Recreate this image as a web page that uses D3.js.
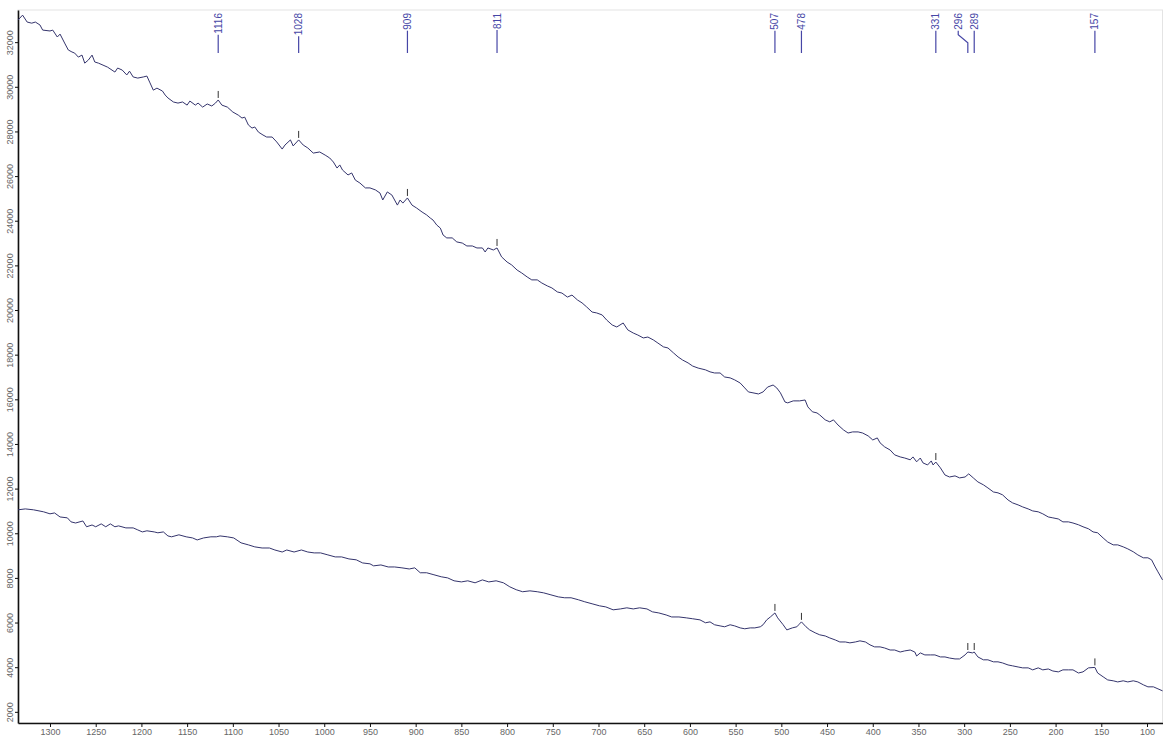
<!DOCTYPE html>
<html lang="en">
<head>
<meta charset="UTF-8">
<title>Raman spectrum</title>
<script src="https://d3js.org/d3.v7.min.js"></script>
<style>
  body { margin: 0; background: #fff; font-family: 'Liberation Sans', Arial, sans-serif; }
  .axis path, .axis line { stroke: #111; }
  .x-axis text { fill: #666; font-size: 9px; }
  .y-label { fill: #666; font-size: 9px; font-family: 'Liberation Sans Narrow', 'Arial Narrow', 'Liberation Sans', sans-serif; }
  .peak-label { fill: #4646a6; font-size: 10px; }
</style>
</head>
<body>
<div id="chart"></div>
<script>
// axis ticks
const xTicks = d3.range(1300, 99, -50);
const yTicks = d3.range(2000, 32001, 2000);

// peak labels along the top, and which trace carries each marker
const peakLabels = [1116, 1028, 909, 811, 507, 478, 331, 296, 289, 157];
const upperPeaks = [1116, 1028, 909, 811, 331];
const lowerPeaks = [507, 478, 296, 289, 157];

// [wavenumber, intensity]
const upperTrace = [
  [1335,32990],[1330,33210],[1325,32900],[1320,32850],[1316,32900],[1311,32770],[1308,32540],[1300,32500],
  [1297,32540],[1292,32230],[1289,32360],[1284,31960],[1280,31650],[1276,31560],[1273,31510],[1269,31330],
  [1265,31420],[1262,31060],[1258,31200],[1254,31420],[1251,31110],[1247,31060],[1242,30970],[1237,30880],
  [1229,30660],[1226,30840],[1221,30750],[1216,30530],[1213,30700],[1209,30440],[1204,30390],[1198,30440],
  [1194,30480],[1191,30210],[1187,29850],[1183,29940],[1177,29810],[1174,29630],[1171,29500],[1165,29320],
  [1160,29270],[1155,29320],[1150,29180],[1147,29360],[1141,29180],[1138,29270],[1133,29090],[1128,29230],
  [1123,29140],[1119,29270],[1116,29410],[1112,29180],[1106,29090],[1100,28870],[1094,28730],[1090,28600],
  [1087,28640],[1083,28290],[1079,28150],[1076,28200],[1072,27970],[1067,27840],[1063,27750],[1057,27750],
  [1052,27530],[1046,27210],[1043,27390],[1037,27620],[1034,27350],[1028,27620],[1023,27390],[1018,27260],
  [1012,27030],[1005,27080],[999,26940],[994,26810],[990,26630],[986,26360],[983,26500],[980,26270],
  [974,26050],[970,26140],[966,25820],[961,25690],[955,25470],[950,25470],[944,25380],[939,25240],
  [936,24930],[931,25290],[926,25150],[920,24700],[917,24930],[914,24790],[909,25020],[904,24700],
  [899,24570],[893,24390],[888,24260],[884,24120],[881,24030],[877,23810],[873,23670],[870,23360],
  [866,23230],[860,23230],[855,23050],[849,23000],[844,22870],[838,22870],[833,22780],[827,22780],
  [824,22600],[821,22780],[815,22690],[811,22780],[806,22380],[800,22150],[795,22020],[789,21790],
  [784,21660],[778,21480],[773,21350],[767,21350],[762,21210],[756,21080],[751,20990],[745,20810],
  [740,20760],[734,20580],[729,20670],[723,20450],[718,20320],[713,20140],[707,19910],[702,19870],
  [696,19780],[691,19550],[685,19330],[680,19240],[673,19420],[668,19110],[662,18970],[657,18880],
  [651,18750],[646,18790],[640,18660],[635,18520],[629,18350],[624,18300],[618,18080],[613,17900],
  [608,17760],[602,17630],[597,17490],[591,17400],[583,17320],[578,17230],[573,17180],[567,17180],
  [562,17000],[556,16960],[551,16870],[545,16730],[540,16510],[536,16330],[531,16290],[525,16240],
  [520,16330],[515,16550],[509,16640],[505,16510],[501,16290],[496,15880],[493,15840],[487,15930],
  [480,15930],[474,15970],[471,15660],[466,15440],[461,15390],[458,15300],[452,15080],[447,14990],
  [443,15080],[438,14850],[432,14630],[427,14490],[422,14540],[416,14540],[411,14490],[405,14360],
  [400,14180],[395,14270],[392,14050],[387,13870],[381,13730],[376,13510],[370,13420],[365,13370],
  [359,13290],[356,13420],[352,13200],[348,13370],[345,13150],[340,13060],[336,13240],[334,13060],
  [331,13190],[326,12930],[321,12610],[316,12520],[310,12570],[305,12480],[299,12520],[295,12660],
  [290,12480],[285,12300],[279,12170],[274,12030],[268,11850],[263,11810],[258,11720],[252,11490],
  [247,11360],[241,11270],[236,11180],[230,11090],[225,11000],[219,10960],[214,10870],[208,10730],
  [203,10690],[197,10640],[192,10510],[186,10510],[181,10460],[175,10380],[170,10290],[164,10200],
  [159,10060],[154,10020],[148,9790],[143,9610],[137,9480],[132,9480],[126,9390],[121,9300],
  [115,9170],[110,9030],[104,8900],[99,8900],[95,8810],[91,8490],[88,8270],[83,7910]
];

const lowerTrace = [
  [1335,11050],[1327,11090],[1318,11050],[1307,10960],[1300,10870],[1295,10910],[1289,10730],[1281,10690],
  [1277,10510],[1272,10460],[1264,10550],[1260,10290],[1254,10370],[1250,10290],[1244,10420],[1239,10290],
  [1234,10420],[1229,10290],[1225,10330],[1217,10240],[1209,10240],[1204,10150],[1199,10060],[1194,10110],
  [1186,10060],[1182,10020],[1176,10060],[1171,9880],[1167,9840],[1159,9930],[1151,9840],[1144,9790],
  [1139,9700],[1132,9790],[1124,9840],[1118,9840],[1114,9880],[1106,9840],[1099,9790],[1091,9570],
  [1083,9480],[1076,9390],[1068,9340],[1060,9340],[1054,9250],[1046,9160],[1041,9250],[1033,9160],
  [1025,9250],[1018,9160],[1011,9120],[1004,9120],[996,9030],[988,8940],[981,8940],[973,8850],
  [965,8810],[958,8670],[950,8630],[946,8540],[938,8580],[930,8490],[923,8490],[915,8450],
  [907,8400],[901,8450],[895,8230],[888,8230],[880,8140],[872,8050],[865,8000],[858,7870],
  [850,7820],[843,7870],[835,7780],[827,7910],[820,7820],[812,7870],[804,7780],[797,7600],
  [790,7470],[783,7380],[775,7420],[767,7380],[760,7330],[752,7240],[744,7150],[737,7110],
  [730,7110],[722,7020],[715,6930],[707,6840],[699,6750],[692,6700],[684,6570],[676,6610],
  [669,6660],[662,6610],[655,6660],[647,6610],[641,6480],[634,6430],[626,6340],[620,6250],
  [612,6250],[604,6210],[597,6170],[589,6120],[583,5990],[578,6030],[573,5900],[567,5850],
  [562,5810],[556,5900],[551,5850],[545,5760],[540,5720],[534,5760],[529,5760],[523,5810],
  [520,5900],[516,6120],[512,6250],[507,6430],[504,6210],[498,5900],[494,5670],[488,5760],
  [483,5810],[481,5900],[478,6030],[473,5810],[469,5670],[463,5540],[458,5450],[452,5400],
  [447,5310],[441,5220],[436,5130],[430,5130],[425,5090],[419,5130],[414,5180],[408,5130],
  [403,5000],[398,4910],[392,4910],[387,4860],[381,4770],[376,4770],[370,4680],[365,4730],
  [359,4770],[354,4680],[352,4500],[348,4640],[343,4550],[337,4550],[332,4550],[326,4460],
  [321,4460],[316,4410],[310,4370],[305,4370],[299,4550],[296,4680],[291,4640],[289,4680],
  [285,4460],[279,4330],[274,4330],[268,4240],[263,4240],[258,4190],[252,4100],[247,4060],
  [241,4010],[236,3970],[230,3970],[225,3880],[219,3970],[214,3880],[208,3920],[203,3830],
  [197,3790],[192,3880],[186,3880],[181,3880],[175,3740],[170,3790],[164,3970],[157,3990],
  [154,3740],[148,3570],[143,3430],[137,3390],[132,3340],[126,3390],[121,3340],[115,3390],
  [110,3340],[104,3210],[99,3120],[93,3120],[88,3030],[83,2940]
];

const width = 1163, height = 736;
const x = d3.scaleLinear().domain([1335, 82.5]).range([18, 1163]);
const y = d3.scaleLinear().domain([1500, 33440]).range([723, 10]);

const svg = d3.select('#chart').append('svg')
  .attr('width', width)
  .attr('height', height);

// faint frame
svg.append('rect')
  .attr('x', x.range()[0]).attr('y', y.range()[1])
  .attr('width', x.range()[1] - x.range()[0] - 0.5)
  .attr('height', y.range()[0] - y.range()[1])
  .attr('fill', 'none').attr('stroke', '#e4e4e4');

// bottom axis
const xAxis = svg.append('g')
  .attr('class', 'axis x-axis')
  .attr('transform', `translate(0,${y.range()[0]})`)
  .call(d3.axisBottom(x).tickValues(xTicks).tickFormat(d3.format('d'))
    .tickSize(4).tickSizeOuter(0).tickPadding(2));
xAxis.select('.domain').attr('stroke-width', 1.6);

// left axis with rotated labels
const yAxis = svg.append('g')
  .attr('class', 'axis y-axis')
  .attr('transform', `translate(${x.range()[0]},0)`)
  .call(d3.axisLeft(y).tickValues(yTicks).tickSize(3).tickSizeOuter(0));
yAxis.select('.domain').attr('stroke-width', 1.6);
yAxis.selectAll('.tick text').remove();
yAxis.selectAll('.tick').append('text')
  .attr('class', 'y-label')
  .attr('transform', 'translate(-8,0) rotate(-90)')
  .attr('text-anchor', 'middle')
  .attr('dy', '0.35em')
  .text(d => d);

// spectra
const line = d3.line().x(d => x(d[0])).y(d => y(d[1]));
[upperTrace, lowerTrace].forEach(trace => {
  svg.append('path')
    .datum(trace)
    .attr('fill', 'none')
    .attr('stroke', '#34346c')
    .attr('stroke-width', 1)
    .attr('stroke-linejoin', 'round')
    .attr('d', line);
});

// value of a trace at a wavenumber (traces run high -> low)
function valueAt(trace, w) {
  for (let i = 0; i < trace.length - 1; i++) {
    const a = trace[i], b = trace[i + 1];
    if (w <= a[0] && w >= b[0]) {
      const t = (a[0] - w) / (a[0] - b[0]);
      return a[1] + t * (b[1] - a[1]);
    }
  }
  return trace[trace.length - 1][1];
}

// little peak markers above the traces
const markers = upperPeaks.map(w => ({ w, v: valueAt(upperTrace, w) }))
  .concat(lowerPeaks.map(w => ({ w, v: valueAt(lowerTrace, w) })));
svg.selectAll('.marker')
  .data(markers)
  .enter()
  .append('line')
  .attr('class', 'marker')
  .attr('x1', d => x(d.w)).attr('x2', d => x(d.w))
  .attr('y1', d => y(d.v) - 9).attr('y2', d => y(d.v) - 2)
  .attr('stroke', '#333')
  .attr('stroke-width', 1);

// peak labels at the top; crowded ones are nudged left with a bent leader
const labels = peakLabels.map(w => ({ w, px: x(w), tx: x(w) }))
  .sort((a, b) => a.px - b.px);
for (let i = 1; i < labels.length; i++) {
  if (labels[i].px - labels[i - 1].px < 12) labels[i - 1].tx = labels[i].px - 16;
}

const labelTop = 13, leaderEnd = 53;
const lg = svg.selectAll('.peak')
  .data(labels)
  .enter()
  .append('g')
  .attr('class', 'peak');

lg.append('text')
  .attr('class', 'peak-label')
  .attr('transform', d => `translate(${d.tx},${labelTop}) rotate(-90)`)
  .attr('text-anchor', 'end')
  .attr('dy', '0.35em')
  .text(d => d.w);

lg.each(function (d) {
  const len = d3.select(this).select('text').node().getComputedTextLength();
  const top = labelTop + len + 1;
  let p = `M${d.tx},${top}`;
  if (d.tx !== d.px) p += ` L${d.tx},${top + 4} L${d.px},${top + 12}`;
  p += ` L${d.px},${leaderEnd}`;
  d3.select(this).append('path')
    .attr('d', p)
    .attr('fill', 'none')
    .attr('stroke', '#4646a6')
    .attr('stroke-width', 1.2);
});
</script>
</body>
</html>
